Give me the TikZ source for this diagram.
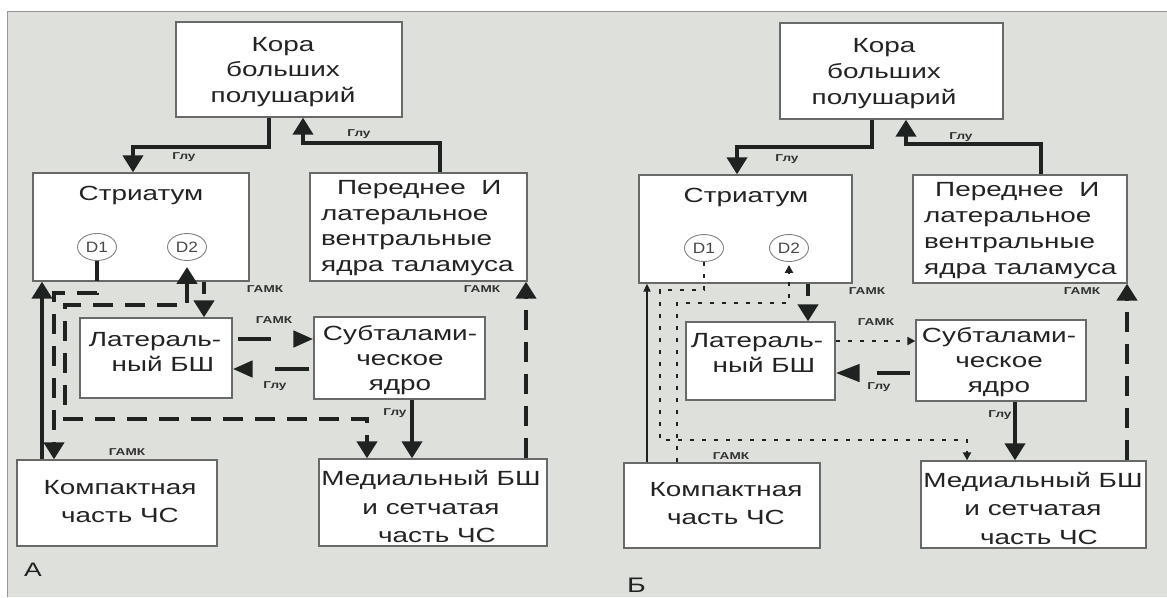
\documentclass[tikz,border=0pt]{standalone}
\usepackage{fontspec}
\setmainfont{Liberation Sans}[FakeStretch=1.36]
\newfontfamily\dfont{Liberation Sans}[FakeStretch=1.15]
\usetikzlibrary{arrows.meta,shapes.geometric}
\definecolor{bgc}{RGB}{222,224,219}
\definecolor{framec}{RGB}{150,150,150}
\definecolor{boxc}{RGB}{105,105,105}
\definecolor{circc}{RGB}{130,130,130}
\definecolor{inkc}{RGB}{30,35,34}
\definecolor{txtc}{RGB}{35,35,35}
\definecolor{dtxt}{RGB}{70,70,70}
\definecolor{lblc}{RGB}{50,50,50}
\newcommand\bxf[1]{\fontsize{20.5pt}{#1pt}\selectfont}
\tikzset{
  bigtip/.tip={Triangle[length=17pt,width=20pt]},
  midtip/.tip={Triangle[length=20pt,width=16pt]},
  smalltip/.tip={Triangle[length=8pt,width=8pt]},
  box/.style={draw=boxc, line width=1.3pt, fill=white, inner sep=0pt, rectangle},
  btext/.style={inner sep=0pt, align=center, text=txtc},
  dcirc/.style={ellipse, draw=circc, line width=0.9pt, fill=white, minimum width=39pt, minimum height=27pt, inner sep=0pt, text=dtxt, font=\dfont\fontsize{15pt}{15pt}\selectfont},
  lbl/.style={inner sep=0pt, text=lblc, font=\bfseries\fontsize{10pt}{12pt}\selectfont},
  thk/.style={draw=inkc, line width=4pt},
  dsh/.style={draw=inkc, line width=4.5pt, dash pattern=on 20pt off 12pt},
  dtt/.style={draw=inkc, line width=2.6pt, dash pattern=on 4.5pt off 7.5pt},
  thn/.style={draw=inkc, line width=1.8pt},
  panel/.style={text=txtc, inner sep=0pt},
}
\begin{document}
\begin{tikzpicture}[x=1pt,y=-1pt]
\useasboundingbox (0,0) rectangle (1167,597);
\fill[white] (0,0) rectangle (1167,597);
\fill[bgc] (7,11) rectangle (1167,597);
\draw[framec, line width=0.8pt] (7,597) -- (7,11) -- (1167,11);

% ---------- Panel A ----------
\node[box, minimum width=226pt, minimum height=95pt] (korL) at (289,69.5) {};
\node[btext, font=\bxf{25.5}] (korLt) at (283,72) {Кора\\больших\\полушарий};
\node[box, minimum width=216pt, minimum height=108pt] (strL) at (141,227) {};
\node[btext, font=\bxf{25}] (strLt) at (141,195) {Стриатум};
\node[dcirc] (D1L) at (97,247) {D1};
\node[dcirc] (D2L) at (187,247) {D2};
\node[box, minimum width=217pt, minimum height=108pt] (thalL) at (418.5,227) {};
\node[btext, align=left, anchor=west, font=\bxf{25.7}] (thalLt) at (321,228) {\hspace*{16pt}Переднее\ \ И\\латеральное\\вентральные\\ядра таламуса};
\node[box, minimum width=152pt, minimum height=80pt] (latL) at (156,358) {};
\node[btext, font=\bxf{25}] (latLt) at (155,352) {Латераль-\\\hspace*{16pt}ный БШ};
\node[box, minimum width=171pt, minimum height=82pt] (subL) at (399.5,358) {};
\node[btext, font=\bxf{25}] (subLt) at (400,360.5) {Субталами-\\ческое\\ядро};
\node[box, minimum width=200pt, minimum height=86pt] (cmpL) at (117,503) {};
\node[btext, font=\bxf{28.3}] (cmpLt) at (120,501.5) {Компактная\\часть ЧС};
\node[box, minimum width=228pt, minimum height=87pt] (medL) at (433,502.5) {};
\node[btext, font=\bxf{28.5}] (medLt) at (431,506.5) {Медиальный БШ\\и сетчатая\\\hspace*{12pt}часть ЧС};
\node[panel, font=\fontsize{19.5pt}{20pt}\selectfont] (labA) at (33,570) {А};

\draw[thk,-{bigtip}] (korL.south -| 269,0) |- (133,147) -- (strL.north -| 133,0);
\node[lbl] (gL1) at (184,157) {Глу};
\draw[thk,-{bigtip}] (thalL.north -| 440,0) |- (303,143) -- (korL.south -| 303,0);
\node[lbl] (gL2) at (359,134) {Глу};
\draw[thk,-{bigtip}] (cmpL.north -| 42,0) -- (strL.south -| 42,0);
\draw[dsh,-{bigtip}] (D1L.south) |- (54,293) -- (cmpL.north -| 54,0);
\draw[dsh,{bigtip}-{bigtip}, shorten <=6pt] (D2L.south) |- (65,305) |- (367,419) -- (medL.north -| 367,0);
\draw[dsh,-{bigtip}, dash pattern=on 12pt off 40pt] (strL.south -| 204,0) -- (latL.north -| 204,0);
\draw[dsh,-{midtip}, dash pattern=on 33pt off 60pt, shorten <=5pt] (latL.east |- 0,339) -- (subL.west |- 0,339);
\draw[dsh,-{midtip}, dash pattern=on 34pt off 60pt, shorten <=4pt] (subL.west |- 0,369) -- (latL.east |- 0,369);
\draw[thk,-{bigtip}] (subL.south -| 412,0) -- (medL.north -| 412,0);
\draw[dsh,-{bigtip}] (medL.north -| 526,0) -- (thalL.south -| 526,0);
\node[lbl] (aL1) at (265,289) {ГАМК};
\node[lbl] (aL2) at (482,289) {ГАМК};
\node[lbl] (aL3) at (274,320) {ГАМК};
\node[lbl] (gL3) at (275,386) {Глу};
\node[lbl] (gL4) at (395,413) {Глу};
\node[lbl] (aL4) at (127,452) {ГАМК};

% ---------- Panel B ----------
\node[box, minimum width=223pt, minimum height=96pt] (korR) at (891.5,71) {};
\node[btext, font=\bxf{26}] (korRt) at (884,73.8) {Кора\\больших\\полушарий};
\node[box, minimum width=213pt, minimum height=108pt] (strR) at (745.5,229) {};
\node[btext, font=\bxf{25}] (strRt) at (746,197) {Стриатум};
\node[dcirc] (D1R) at (704,248) {D1};
\node[dcirc] (D2R) at (789,248) {D2};
\node[box, minimum width=214pt, minimum height=108pt] (thalR) at (1020,229) {};
\node[btext, align=left, anchor=west, font=\bxf{26}] (thalRt) at (924,231) {\hspace*{11pt}Переднее\ \ И\\латеральное\\вентральные\\ядра таламуса};
\node[box, minimum width=149pt, minimum height=78pt] (latR) at (760.5,361) {};
\node[btext, font=\bxf{25}] (latRt) at (757,353) {Латераль-\\\hspace*{14pt}ный БШ};
\node[box, minimum width=170pt, minimum height=81pt] (subR) at (1001,360.5) {};
\node[btext, font=\bxf{25}] (subRt) at (999,362.5) {Субталами-\\ческое\\ядро};
\node[box, minimum width=196pt, minimum height=85pt] (cmpR) at (722,505.5) {};
\node[btext, font=\bxf{28.3}] (cmpRt) at (726,503.5) {Компактная\\часть ЧС};
\node[box, minimum width=225pt, minimum height=87pt] (medR) at (1033.5,504.5) {};
\node[btext, font=\bxf{28.5}] (medRt) at (1033,508) {Медиальный БШ\\и сетчатая\\\hspace*{12pt}часть ЧС};
\node[panel, font=\fontsize{21pt}{22pt}\selectfont] (labB) at (636.5,585.5) {Б};

\draw[thk,-{bigtip}] (korR.south -| 872,0) |- (737,147) -- (strR.north -| 737,0);
\node[lbl] (gR1) at (787,159) {Глу};
\draw[thk,-{bigtip}] (thalR.north -| 1041,0) |- (906,144) -- (korR.south -| 906,0);
\node[lbl] (gR2) at (961,137) {Глу};
\draw[thn,-{Triangle[length=8pt,width=7pt]}] (cmpR.north -| 647,0) -- (strR.south -| 647,0);
\draw[dtt,-{smalltip}] (D1R.south) |- (660,290) |- (967,440) -- (medR.north -| 967,0);
\draw[dtt,-{smalltip}, shorten >=3pt] (cmpR.north -| 677,0) |- (789,303) -- (D2R.south);
\draw[dsh,-{bigtip}, dash pattern=on 12pt off 40pt] (strR.south -| 808,0) -- (latR.north -| 808,0);
\draw[dtt,-{smalltip}] (latR.east |- 0,341) -- (subR.west |- 0,341);
\draw[dsh,-{Triangle[length=24pt,width=17pt]}, dash pattern=on 33pt off 60pt, shorten <=5pt] (subR.west |- 0,373) -- (latR.east |- 0,373);
\draw[thk,-{bigtip}] (subR.south -| 1015,0) -- (medR.north -| 1015,0);
\draw[dsh,-{bigtip}] (medR.north -| 1127,0) -- (thalR.south -| 1127,0);
\node[lbl] (aR1) at (867,291) {ГАМК};
\node[lbl] (aR2) at (1082,291) {ГАМК};
\node[lbl] (aR3) at (876,322) {ГАМК};
\node[lbl] (gR3) at (879,387) {Глу};
\node[lbl] (gR4) at (1000,415) {Глу};
\node[lbl] (aR4) at (731,456) {ГАМК};
\end{tikzpicture}
\end{document}
